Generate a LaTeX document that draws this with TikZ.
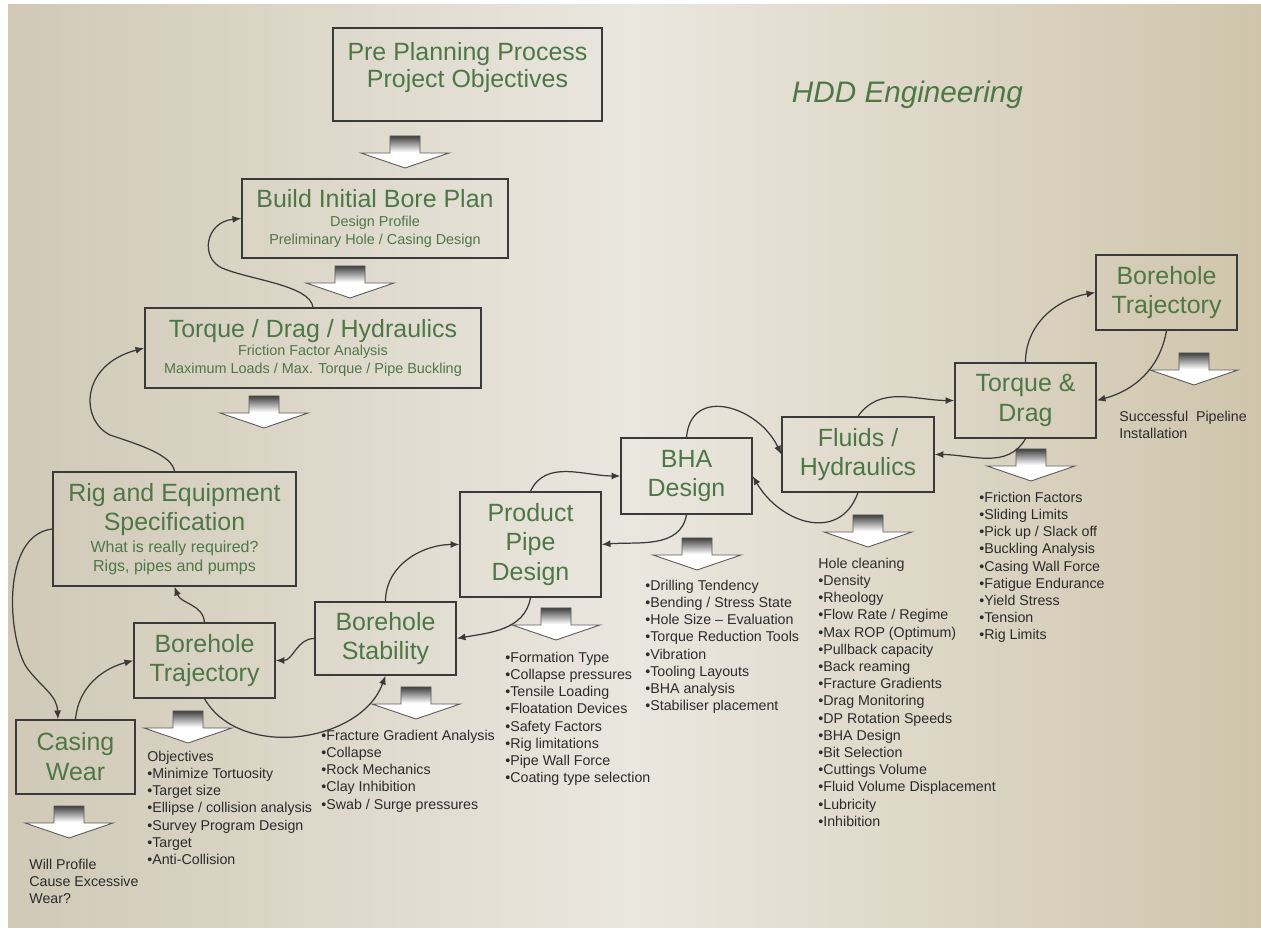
\documentclass[tikz,border=0pt]{standalone}
\usepackage{fontspec}
\setmainfont{Liberation Sans}
\usetikzlibrary{arrows.meta}

\definecolor{hddgreen}{HTML}{4E7746}
\definecolor{boxline}{HTML}{3A3A3A}
\definecolor{listtext}{HTML}{2B2B2B}
\definecolor{bgleft}{HTML}{D1C9B6}
\definecolor{bgmid}{HTML}{EAE7DF}
\definecolor{bgright}{HTML}{D0C5AC}

% grey block arrow pointing down: centre x, top y
\newcommand{\dropArrow}[2]{%
  \shadedraw[droparrow] ({#1-15},#2) -- ({#1+15},#2) -- ({#1+15},{#2+17})
    -- ({#1+44},{#2+17}) -- (#1,{#2+32}) -- ({#1-44},{#2+17})
    -- ({#1-15},{#2+17}) -- cycle;}

\begin{document}
\begin{tikzpicture}[x=0.02cm, y=-0.02cm,
  stage/.style={draw=boxline, line width=0.8pt, text=hddgreen, align=center, inner sep=1pt, font=\fontsize{14.2}{17}\selectfont},
  boxsize/.style 2 args={minimum width=#1*0.02cm, minimum height=#2*0.02cm},
  notes/.style={anchor=north west, inner sep=0pt, align=left, text=listtext, font=\fontsize{8.1}{9.8}\selectfont},
  flow/.style={draw=boxline, line width=0.7pt, -{Latex[length=5pt,width=4pt]}},
  droparrow/.style={draw=black!65, line width=0.5pt, top color=black!75, bottom color=white, middle color=white}]

% Background
\useasboundingbox (0,0) rectangle (1261,928);
\fill[white] (0,0) rectangle (1261,928);
\shade[left color=bgleft, right color=bgright, middle color=bgmid] (8,5) rectangle (1261,928);

% Title
\node[font=\fontsize{16.9}{20}\selectfont\itshape, text=hddgreen, anchor=base] (title) at (907.5,103) {HDD Engineering};

% Planning column
\node[stage, boxsize={269}{93}] (pre) at (467.5,74.5) {Pre Planning Process\\[-2pt]Project Objectives\\[-6pt]\mbox{}};
\node[stage, boxsize={266}{79}, font=\fontsize{8.2}{10.2}\selectfont] (bip) at (375,218.5) {{\fontsize{14.2}{17}\selectfont Build Initial Bore Plan}\\[0.6pt]Design Profile\\Preliminary Hole / Casing Design};
\node[stage, boxsize={336}{80}, font=\fontsize{8.2}{10.2}\selectfont] (tdh) at (313,348) {{\fontsize{14.2}{17}\selectfont Torque / Drag / Hydraulics}\\Friction Factor Analysis\\Maximum Loads / Max. Torque / Pipe Buckling};
\node[stage, boxsize={243}{114}, font=\fontsize{9.1}{10.8}\selectfont] (rig) at (174.5,529) {{\fontsize{14.2}{17}\selectfont Rig and Equipment}\\[2.1pt]{\fontsize{14.2}{17}\selectfont Specification}\\[1.7pt]What is really required?\\Rigs, pipes and pumps};

% Design chain
\node[stage, boxsize={119}{74}] (cw) at (75.5,757) {Casing\\Wear};
\node[stage, boxsize={141}{75}] (btl) at (204.5,660.5) {Borehole\\Trajectory};
\node[stage, boxsize={141}{73}] (bs) at (385.5,638.5) {Borehole\\Stability};
\node[stage, boxsize={141}{105}] (ppd) at (530.5,544.5) {Product\\Pipe\\Design};
\node[stage, boxsize={131}{76}] (bha) at (686.5,476) {BHA\\Design};
\node[stage, boxsize={152}{75}] (fh) at (858,454.5) {Fluids /\\Hydraulics};
\node[stage, boxsize={141}{75}] (td) at (1025.5,400.5) {Torque \&\\Drag};
\node[stage, boxsize={141}{75}] (btr) at (1166.5,292.5) {Borehole\\Trajectory};

% Block arrows
\dropArrow{405}{136}
\dropArrow{350}{266}
\dropArrow{264}{396}
\dropArrow{69}{806}
\dropArrow{188}{711}
\dropArrow{416}{687}
\dropArrow{556}{608}
\dropArrow{697}{538}
\dropArrow{868}{515}
\dropArrow{1031}{449}
\dropArrow{1194}{353}

% Notes under the stages
\node[notes] (wear) at (29,858.5) {Will Profile\\Cause Excessive\\Wear?};
\node[notes] (trajnotes) at (147,750.5) {Objectives\\•Minimize Tortuosity\\•Target size\\•Ellipse / collision analysis\\•Survey Program Design\\•Target\\•Anti-Collision};
\node[notes] (stabnotes) at (321,729.5) {•Fracture Gradient Analysis\\•Collapse\\•Rock Mechanics\\•Clay Inhibition\\•Swab / Surge pressures};
\node[notes] (pipenotes) at (505,651.5) {•Formation Type\\•Collapse pressures\\•Tensile Loading\\•Floatation Devices\\•Safety Factors\\•Rig limitations\\•Pipe Wall Force\\•Coating type selection};
\node[notes] (bhanotes) at (645,579.5) {•Drilling Tendency\\•Bending / Stress State\\•Hole Size – Evaluation\\•Torque Reduction Tools\\•Vibration\\•Tooling Layouts\\•BHA analysis\\•Stabiliser placement};
\node[notes] (fluidnotes) at (818,557.5) {Hole cleaning\\•Density\\•Rheology\\•Flow Rate / Regime\\•Max ROP (Optimum)\\•Pullback capacity\\•Back reaming\\•Fracture Gradients\\•Drag Monitoring\\•DP Rotation Speeds\\•BHA Design\\•Bit Selection\\•Cuttings Volume\\•Fluid Volume Displacement\\•Lubricity\\•Inhibition};
\node[notes] (tdnotes) at (979,491.5) {•Friction Factors\\•Sliding Limits\\•Pick up / Slack off\\•Buckling Analysis\\•Casing Wall Force\\•Fatigue Endurance\\•Yield Stress\\•Tension\\•Rig Limits};
\node[notes] (install) at (1119,410.5) {Successful~ Pipeline\\Installation};

% Feedback loops
\draw[flow] (tdh.north) .. controls (310,285) and (250,280) .. (222,268) .. controls (200,258) and (205,222) .. (bip.west);
\draw[flow] (rig.north) .. controls (172,455) and (140,445) .. (110,435) .. controls (80,420) and (80,365) .. (tdh.west);
\draw[flow] (rig.west) .. controls (0,535) and (8,640) .. (27,668) .. controls (42,688) and (57,695) .. (cw.115);
\draw[flow] (cw.north) to[out=85, in=195] (btl.west);
\draw[flow] (btl.north) to[out=95, in=-70] (rig.south);
\draw[flow] (bs.west) to[out=180, in=0] (btl.east);
\draw[flow] (btl.south) to[out=-60, in=-110] (bs.south);
\draw[flow] (bs.north) to[out=90, in=180] (ppd.west);
\draw[flow] (ppd.north) to[out=65, in=180] (bha.west);
\draw[flow] (bha.south) to[out=-100, in=5] (ppd.east);
\draw[flow] (ppd.south) to[out=-100, in=10] (bs.east);
\draw[flow] (bha.north) to[out=85, in=115, looseness=1.4] (fh.west);
\draw[flow] (fh.south) to[out=-110, in=-60, looseness=1.3] (bha.east);
\draw[flow] (fh.north) to[out=55, in=180] (td.west);
\draw[flow] (td.south) to[out=-120, in=0] (fh.east);
\draw[flow] (td.north) to[out=90, in=190] (btr.west);
\draw[flow] (btr.south) to[out=-100, in=15] (td.east);
\end{tikzpicture}
\end{document}
